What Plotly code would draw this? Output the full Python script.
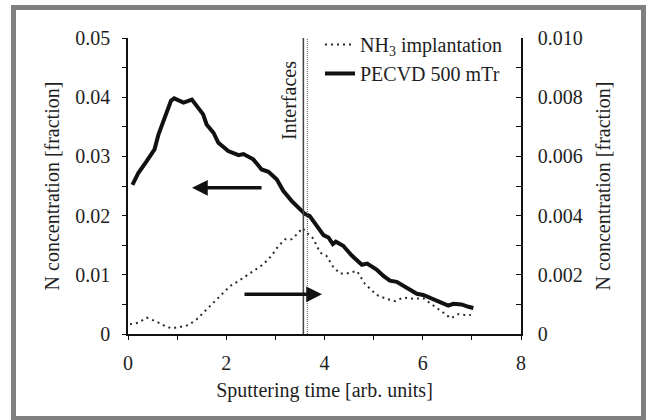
import plotly.graph_objects as go

# ---- data ----
pecvd_t = [0.09, 0.21, 0.38, 0.54, 0.62, 0.75, 0.875, 0.94, 1.13, 1.30, 1.40, 1.53, 1.60, 1.74,
           1.84, 2.04, 2.25, 2.35, 2.55, 2.72, 2.86, 3.03, 3.16, 3.33, 3.50, 3.60, 3.70, 3.84,
           3.98, 4.08, 4.17, 4.23, 4.38, 4.55, 4.76, 4.87, 5.06, 5.20, 5.33, 5.47, 5.67, 5.88,
           6.01, 6.21, 6.42, 6.52, 6.62, 6.79, 6.93, 7.03]
pecvd_n = [0.0252, 0.0272, 0.0292, 0.0312, 0.0337, 0.0365, 0.0394, 0.0398, 0.0391, 0.0396, 0.0385,
           0.0371, 0.0354, 0.0340, 0.0323, 0.0309, 0.0302, 0.0304, 0.0295, 0.0278, 0.0274, 0.0261,
           0.0242, 0.0225, 0.0211, 0.0203, 0.0199, 0.0182, 0.0167, 0.0163, 0.0152, 0.0156, 0.0149,
           0.0133, 0.0117, 0.0119, 0.0109, 0.0098, 0.0090, 0.0088, 0.0079, 0.0068, 0.0066, 0.0059,
           0.0053, 0.0048, 0.0051, 0.0050, 0.0046, 0.0044]

nh3_t = [0.04, 0.21, 0.38, 0.58, 0.75, 0.89, 1.06, 1.23, 1.40, 1.57, 1.74, 1.91, 2.08, 2.25,
         2.42, 2.59, 2.75, 2.92, 3.06, 3.20, 3.33, 3.47, 3.55, 3.64, 3.77, 3.91, 4.04, 4.18,
         4.32, 4.45, 4.66, 4.82, 4.93, 5.06, 5.26, 5.44, 5.60, 5.81, 6.01, 6.21, 6.42, 6.57,
         6.72, 6.86, 6.98]
nh3_n = [0.00033, 0.00038, 0.00055, 0.00042, 0.00027, 0.00019, 0.00024, 0.00030, 0.00050, 0.00078,
         0.00106, 0.00134, 0.00162, 0.00179, 0.00199, 0.00219, 0.00235, 0.00264, 0.00297, 0.00320,
         0.00320, 0.00342, 0.00358, 0.00342, 0.00323, 0.00275, 0.00264, 0.00226, 0.00204, 0.00204,
         0.00213, 0.00170, 0.00151, 0.00132, 0.00119, 0.00111, 0.00123, 0.00119, 0.00121, 0.00098,
         0.00072, 0.00053, 0.00067, 0.00064, 0.00064]

interfaces = [3.57, 3.65]

right_ticks = [0, 0.002, 0.004, 0.006, 0.008, 0.010]
right_ticktext = ["0", "0.002", "0.004", "0.006", "0.008", "0.010"]

# arrows: (tail_x, tip_x, y_on_left_axis)
arrow_left = (2.748, 1.303, 0.0247)
arrow_right = (2.341, 3.949, 0.0067)

FONT = "Liberation Serif"
INK = "#1e1e1e"

fig = go.Figure()
fig.add_trace(go.Scatter(
    x=nh3_t, y=nh3_n, mode="lines", name="NH<sub>3</sub> implantation",
    line=dict(color="#2a2a2a", width=2, dash="2px,4px"), yaxis="y2"))
fig.add_trace(go.Scatter(
    x=pecvd_t, y=pecvd_n, mode="lines", name="PECVD 500 mTr",
    line=dict(color="#111111", width=4), yaxis="y"))

shapes = []
# interface lines
shapes.append(dict(type="line", xref="x", yref="paper", x0=interfaces[0], x1=interfaces[0],
                   y0=0, y1=1, line=dict(color="#444444", width=1.5)))
shapes.append(dict(type="line", xref="x", yref="paper", x0=interfaces[1], x1=interfaces[1],
                   y0=0, y1=1, line=dict(color="#555555", width=1, dash="1px,1px")))
# gray frame around the figure
shapes.append(dict(type="rect", xref="paper", yref="paper",
                   x0=(13.5 - 128) / 393, x1=(643.5 - 128) / 393,
                   y0=(334 - 418.5) / 296, y1=(334 - 7.5) / 296,
                   line=dict(color="#808080", width=5), fillcolor="rgba(0,0,0,0)", layer="below"))

annotations = [
    dict(x=3.28, y=0.0394, xref="x", yref="y", text="Interfaces", textangle=-90,
         showarrow=False, font=dict(family=FONT, size=20, color=INK)),
    dict(x=arrow_left[1], y=arrow_left[2], ax=arrow_left[0], ay=arrow_left[2],
         xref="x", yref="y", axref="x", ayref="y", text="", showarrow=True,
         arrowhead=2, arrowsize=0.9, arrowwidth=3.5, arrowcolor="#111111"),
    dict(x=arrow_right[1], y=arrow_right[2], ax=arrow_right[0], ay=arrow_right[2],
         xref="x", yref="y", axref="x", ayref="y", text="", showarrow=True,
         arrowhead=2, arrowsize=0.9, arrowwidth=3.5, arrowcolor="#111111"),
]

axis_common = dict(showgrid=False, zeroline=False, showline=True, linecolor="#111111",
                   linewidth=1.5, tickcolor="#111111", tickwidth=1.2, automargin=False,
                   tickfont=dict(family=FONT, size=20, color=INK))

fig.update_layout(
    width=646, height=420,
    margin=dict(l=128, r=125, t=38, b=86, pad=0, autoexpand=False),
    paper_bgcolor="white", plot_bgcolor="white",
    font=dict(family=FONT, size=20, color=INK),
    showlegend=True,
    legend=dict(x=(320 - 128) / 393, y=1.044, xanchor="left", yanchor="top",
                bgcolor="rgba(0,0,0,0)", borderwidth=0, tracegroupgap=0,
                font=dict(family=FONT, size=20, color=INK)),
    xaxis=dict(range=[0, 8], dtick=2, tick0=0, ticks="outside", ticklen=4,
               minor=dict(dtick=1, ticks="outside", ticklen=4, tickcolor="#111111", tickwidth=1.2),
               ticklabelstandoff=6,
               title=dict(text="Sputtering time [arb. units]", standoff=10,
                          font=dict(family=FONT, size=20, color=INK)),
               **axis_common),
    yaxis=dict(range=[0, 0.05], dtick=0.01, tick0=0, ticks="outside", ticklen=4,
               minor=dict(dtick=0.005, ticks="outside", ticklen=4, tickcolor="#111111", tickwidth=1.2),
               ticklabelstandoff=8,
               title=dict(text="N concentration [fraction]", standoff=10,
                          font=dict(family=FONT, size=20, color=INK)),
               **axis_common),
    yaxis2=dict(range=[0, 0.01], overlaying="y", side="right", anchor="x",
                tickvals=right_ticks, ticktext=right_ticktext, ticks="inside", ticklen=5,
                minor=dict(dtick=0.001, ticks="inside", ticklen=5, tickcolor="#111111", tickwidth=1.2),
                ticklabelstandoff=11,
                title=dict(text="N concentration [fraction]", standoff=14,
                           font=dict(family=FONT, size=20, color=INK)),
                **axis_common),
    shapes=shapes,
    annotations=annotations,
)

fig.write_html("out.html", config={"displayModeBar": False},
               post_script="document.body.style.margin='0';document.body.style.overflow='hidden';")
